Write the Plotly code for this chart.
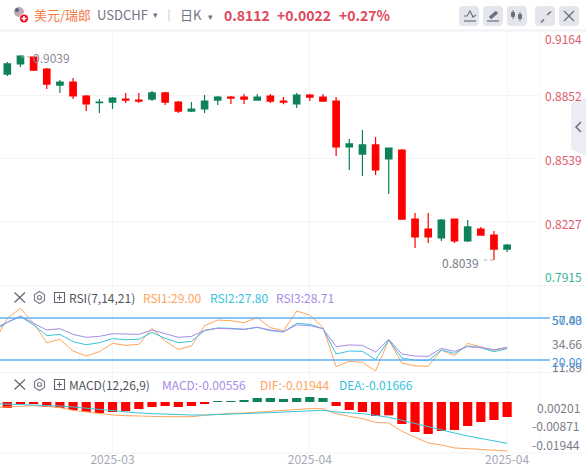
import plotly.graph_objects as go

idx = list(range(39))
line_idx = list(range(-1, 39))
opens  = [.8955,.9005,.9039,.8980,.8901,.8916,.8847,.8814,.8817,.8832,.8827,.8832,.8862,.8817,.8773,.8783,.8827,.8842,.8842,.8827,.8847,.8822,
          .8808,.8852,.8842,.8822,.8596,.8561,.8606,.8537,.8581,.8241,.8192,.8148,.8241,.8133,.8192,.8162,.8093]
highs  = [.9015,.9048,.9042,.8985,.8926,.8936,.8852,.8832,.8842,.8862,.8862,.8872,.8867,.8822,.8817,.8852,.8847,.8847,.8857,.8857,.8857,.8842,
          .8862,.8857,.8857,.8842,.8635,.8680,.8645,.8591,.8586,.8271,.8271,.8241,.8241,.8236,.8202,.8182,.8118]
lows   = [.8946,.8990,.8970,.8882,.8862,.8832,.8773,.8763,.8783,.8813,.8813,.8822,.8803,.8763,.8768,.8763,.8803,.8808,.8808,.8827,.8813,.8807,
          .8788,.8822,.8822,.8551,.8483,.8453,.8458,.8364,.8236,.8098,.8123,.8133,.8123,.8128,.8162,.8039,.8078]
closes = [.9005,.9044,.8975,.8906,.8916,.8847,.8808,.8817,.8837,.8827,.8822,.8862,.8817,.8773,.8783,.8822,.8842,.8837,.8832,.8842,.8822,.8817,
          .8852,.8842,.8822,.8596,.8611,.8606,.8483,.8591,.8241,.8153,.8153,.8236,.8133,.8202,.8162,.8093,.8113]

rsi1 = [36.0,57.1,66.0,52.6,35.4,38.4,28.0,23.5,27.4,34.8,33.0,33.9,48.2,36.9,29.5,32.5,50.5,55.6,55.0,53.2,57.7,48.8,46.1,
        63.6,60.0,49.1,14.1,18.8,17.9,10.2,37.8,17.3,14.7,14.4,28.9,23.8,34.8,31.9,28.6,31.0]
rsi2 = [46.0,53.5,58.6,51.2,41.7,42.8,36.3,33.6,35.4,39.0,38.1,38.4,44.6,39.3,35.4,36.6,46.1,48.5,48.2,47.3,49.1,46.1,44.9,
        52.6,51.7,47.9,25.3,28.0,27.7,20.3,37.8,21.8,19.7,19.4,28.9,25.9,32.5,31.0,27.4,30.1]
rsi3 = [48.0,53.5,59.2,52.6,46.7,47.9,42.8,40.2,41.0,43.4,42.8,42.8,46.7,43.1,40.2,41.0,46.4,48.2,47.9,47.3,49.1,46.7,45.2,
        51.2,50.6,47.9,31.9,33.4,33.0,27.1,38.4,25.3,23.5,23.2,30.4,27.7,31.9,31.0,29.2,31.3]
rsi_levels = [57.4, 20.0]

macd = [-.00222,-.00074,-.00074,-.00185,-.00222,-.00296,-.0037,-.00407,-.0037,-.00333,-.00259,-.00185,-.00148,-.00185,-.00148,-.00074,
        .00012,.00025,.00049,.00148,.00148,.00111,.00148,.00185,.00148,-.00148,-.00296,-.0037,-.00519,-.00494,-.00815,-.01111,-.01185,
        -.01074,-.01037,-.00889,-.00741,-.00667,-.00556]
dif = [-.00385,-.00361,-.00313,-.00313,-.00337,-.00385,-.00481,-.00542,-.0059,-.0065,-.00674,-.00698,-.00698,-.0071,-.0071,-.0071,-.00662,-.00614,
       -.0059,-.00578,-.00542,-.00517,-.00469,-.00457,-.00421,-.00421,-.00602,-.00698,-.00782,-.00915,-.00939,-.01239,-.01456,-.01661,
       -.01733,-.01841,-.01865,-.01889,-.01937,-.01949]
dea = [-.00241,-.00253,-.00265,-.00277,-.00301,-.00325,-.00361,-.00409,-.00445,-.00493,-.00542,-.00578,-.00602,-.00626,-.00638,-.0065,-.0065,
       -.00638,-.00626,-.00602,-.0059,-.00566,-.00542,-.00517,-.00517,-.00481,-.00542,-.00566,-.00602,-.00662,-.00734,-.00842,-.00963,
       -.01083,-.01203,-.013,-.01408,-.01504,-.016,-.01673]

month_ticks = [8, 23, 38]
month_labels = ["2025-03", "2025-04", "2025-04"]
price_ticks = [.8852, .8539, .8227]

W, H = 586, 474
RED, GREEN = "#ff0000", "#0f8158"
ORANGE, CYAN, PURPLE, BLUE = "#ffa45c", "#35c4dc", "#a88be8", "#5fb2f3"
FONT = "Noto Sans CJK SC"
PLOT_R = 540
GRID = "#f3f4f8"

def px(x): return x / W
def py(y): return 1 - y / H

fig = go.Figure()
fig.add_trace(go.Candlestick(
    x=idx, open=opens, high=highs, low=lows, close=closes,
    increasing=dict(line=dict(color=GREEN, width=1.2), fillcolor=GREEN),
    decreasing=dict(line=dict(color=RED, width=1.2), fillcolor=RED),
    whiskerwidth=0, xaxis="x", yaxis="y", hoverinfo="skip"))
for s, c in [(rsi1, ORANGE), (rsi2, CYAN), (rsi3, PURPLE)]:
    fig.add_trace(go.Scatter(x=line_idx, y=s, mode="lines", line=dict(color=c, width=1), xaxis="x", yaxis="y2", hoverinfo="skip"))
fig.add_trace(go.Bar(x=idx, y=macd, marker_color=[GREEN if v > 0 else RED for v in macd], marker_line_width=0,
                     xaxis="x", yaxis="y3", hoverinfo="skip"))
fig.add_trace(go.Scatter(x=line_idx, y=dif, mode="lines", line=dict(color=ORANGE, width=1), xaxis="x", yaxis="y4", hoverinfo="skip"))
fig.add_trace(go.Scatter(x=line_idx, y=dea, mode="lines", line=dict(color=CYAN, width=1), xaxis="x", yaxis="y4", hoverinfo="skip"))

dom = lambda top, bot: [py(bot), py(top)]
hidden = dict(showgrid=False, zeroline=False, showticklabels=False, ticks="")
fig.update_layout(
    width=W, height=H, margin=dict(l=0, r=0, t=0, b=0), autosize=False,
    paper_bgcolor="white", plot_bgcolor="white", showlegend=False, bargap=0.3, boxgap=0.3,
    font=dict(family=FONT, size=12, color="#6c7280"),
    xaxis=dict(domain=[0, px(PLOT_R)], range=[-0.555, 40.5], tickmode="array", tickvals=month_ticks, ticktext=month_labels,
               showgrid=True, gridcolor=GRID, gridwidth=1, zeroline=False, rangeslider=dict(visible=False),
               anchor="y3", side="bottom", tickfont=dict(size=12, color="#a6a9b6"), ticks="", ticklabelstandoff=-2),
    yaxis=dict(domain=dom(31, 285), range=[.79160, .91673], side="right", anchor="x", tickmode="array",
               tickvals=price_ticks, showgrid=True, gridcolor=GRID, zeroline=False, showticklabels=False, ticks=""),
    yaxis2=dict(domain=dom(286, 372), range=[9.32, 85.86], anchor="x", **hidden),
    yaxis3=dict(domain=dom(373, 453), range=[-.01889, .01074], anchor="x", **hidden),
    yaxis4=dict(domain=dom(373, 453), range=[-.02022, .00866], anchor="x", overlaying="y3", **hidden),
)

shapes = []
def line(x0, y0, x1, y1, color=GRID, width=1, **kw):
    shapes.append(dict(type="line", xref="paper", yref="paper", x0=px(x0), y0=py(y0), x1=px(x1), y1=py(y1),
                       line=dict(color=color, width=width), **kw))
line(0, 30.5, W, 30.5, "#f1f2f5", 2)
line(0, 285.5, W, 285.5)
line(0, 372.5, W, 372.5)
line(0, 453, W, 453)
line(PLOT_R, 31, PLOT_R, 453)
for v in rsi_levels:
    shapes.append(dict(type="line", xref="paper", yref="y2", x0=0, x1=px(550), y0=v, y1=v, line=dict(color=BLUE, width=1.6)))

def rbox(x0, y0, x1, y1, fill, r=4):
    a, b, c, d = px(x0), py(y0), px(x1), py(y1)
    rx, ry = r / W, r / H
    path = (f"M{a+rx},{b} L{c-rx},{b} Q{c},{b} {c},{b-ry} L{c},{d+ry} Q{c},{d} {c-rx},{d} "
            f"L{a+rx},{d} Q{a},{d} {a},{d+ry} L{a},{b-ry} Q{a},{b} {a+rx},{b} Z")
    shapes.append(dict(type="path", xref="paper", yref="paper", path=path, fillcolor=fill, line=dict(width=0)))

for x0 in (459, 483, 507, 535, 559):
    rbox(x0, 6, x0 + 20, 26, "#e4e6ec")
ICON = "#6b7080"
line(464, 21, 476, 21, ICON, 1.2)
shapes.append(dict(type="path", xref="paper", yref="paper", line=dict(color=ICON, width=1.2),
                   path=f"M{px(464)},{py(16)} L{px(467)},{py(16)} L{px(470)},{py(11)} L{px(473)},{py(17)} L{px(476)},{py(15)}"))
line(487, 21, 499, 21, ICON, 1.2)
line(490, 18, 497, 12, ICON, 3.5)
line(513, 10, 513, 19, ICON, 1); line(520, 12, 520, 21, ICON, 1)
rbox(511, 12, 515, 17, ICON, 1); rbox(518, 14, 522, 19, ICON, 1)
line(541, 22.5, 544, 19.5, ICON, 1.6); line(547, 15, 551, 11.5, ICON, 1.6)
line(564, 11, 574, 21, ICON, 1.2); line(574, 11, 564, 21, ICON, 1.2)
line(169, 9, 169, 21, "#c8cbd3", 1)
for y in (297.5, 384.5):
    line(14.5, y - 5, 25, y + 5, "#5f6470", 1.2); line(25, y - 5, 14.5, y + 5, "#5f6470", 1.2)
    hexpts = [(39.5, y - 6), (44.5, y - 3), (44.5, y + 3), (39.5, y + 6), (34.5, y + 3), (34.5, y - 3)]
    shapes.append(dict(type="path", xref="paper", yref="paper", line=dict(color="#7a7f8c", width=1.2),
                       path="M" + " L".join(f"{px(a)},{py(b)}" for a, b in hexpts) + " Z"))
    shapes.append(dict(type="circle", xref="paper", yref="paper", x0=px(37.5), x1=px(41.5), y0=py(y - 2), y1=py(y + 2),
                       line=dict(color="#7a7f8c", width=1.2)))
    shapes.append(dict(type="rect", xref="paper", yref="paper", x0=px(54.5), x1=px(64.5), y0=py(y - 5), y1=py(y + 5),
                       line=dict(color="#5f6470", width=1.1)))
    line(59.5, y - 3, 59.5, y + 3, "#5f6470", 1); line(57, y, 62, y, "#5f6470", 1)
shapes.append(dict(type="circle", xref="paper", yref="paper", x0=px(14), x1=px(24), y0=py(7), y1=py(17), fillcolor="#c4a9ae", line=dict(width=0)))
shapes.append(dict(type="circle", xref="paper", yref="paper", x0=px(15), x1=px(19), y0=py(8), y1=py(12), fillcolor="#5a6490", line=dict(width=0)))
shapes.append(dict(type="circle", xref="paper", yref="paper", x0=px(19.5), x1=px(28.5), y0=py(14), y1=py(23), fillcolor="#e8061c", line=dict(color="white", width=1)))
line(21.5, 18.5, 26.5, 18.5, "white", 1.6); line(24, 16, 24, 21, "white", 1.6)
shapes.append(dict(type="path", xref="paper", yref="paper", fillcolor="#ecedf2", line=dict(width=0),
                   path=f"M{px(586)},{py(98)} L{px(575)},{py(101)} L{px(571)},{py(104)} L{px(571)},{py(149)} L{px(586)},{py(156)} Z"))
shapes.append(dict(type="path", xref="paper", yref="paper", line=dict(color="#6b7080", width=1.5),
                   path=f"M{px(581)},{py(122)} L{px(576)},{py(127)} L{px(581)},{py(132)}"))
line(21, 57, 31, 57, "#a6a9b6", 1)
shapes[-1]["line"]["dash"] = "dot"
line(484, 260, 493, 260, "#a6a9b6", 1)
shapes[-1]["line"]["dash"] = "dot"

fig.update_layout(shapes=shapes)

def text(x, y, s, color="#6c7280", size=12, anchor="left", bold=False):
    fig.add_annotation(xref="paper", yref="paper", x=px(x), y=py(y), text=f"<b>{s}</b>" if bold else s, showarrow=False,
                       xanchor=anchor, yanchor="middle", borderpad=0, font=dict(color=color, size=size, family=FONT))

text(33, 14.5, "美元/瑞郎", "#f47a45", 13)
text(95.5, 15, "USDCHF", "#70747f", 13)
text(152, 15, "▾", "#70747f", 9)
text(178.5, 14.5, "日K", "#70747f", 13)
text(207, 16, "▾", "#70747f", 9)
text(223, 14.5, "0.8112", "#e0485c", 14, bold=True)
text(275.5, 14.5, "+0.0022", "#e0485c", 14, bold=True)
text(337.5, 14.5, "+0.27%", "#e0485c", 14, bold=True)

text(32, 57.5, "0.9039", "#878b97", 12)
text(441, 262, "0.8039", "#787c88", 12)

text(544, 38.5, "0.9164", "#e0596b", 12)
text(544, 95.5, "0.8852", "#e0596b", 12)
text(544, 159.5, "0.8539", "#e0596b", 12)
text(544, 223.5, "0.8227", "#e0596b", 12)
text(544, 276.5, "0.7915", "#35b49a", 12)

text(68, 297.5, "RSI(7,14,21)", "#50545e", 12)
text(142, 297.5, "RSI1:29.00", ORANGE, 12)
text(209, 297.5, "RSI2:27.80", CYAN, 12)
text(275, 297.5, "RSI3:28.71", PURPLE, 12)
text(551, 319, "57.43", "#787c88", 12)
text(551, 319, "50.00", "#3f97e6", 12)
text(551, 343, "34.66", "#787c88", 12)
text(551, 366, "11.89", "#787c88", 12)
text(551, 361, "20.00", "#3f97e6", 12)

text(68, 384.5, "MACD(12,26,9)", "#50545e", 12)
text(161, 384.5, "MACD:-0.00556", PURPLE, 12)
text(259, 384.5, "DIF:-0.01944", ORANGE, 12)
text(338, 384.5, "DEA:-0.01666", CYAN, 12)
text(536, 407, "0.00201", "#787c88", 12)
text(531, 425.5, "-0.00871", "#787c88", 12)
text(531, 444.5, "-0.01944", "#787c88", 12)

fig.write_html("out.html", config=dict(displayModeBar=False),
               post_script="document.body.style.margin='0';document.documentElement.style.overflow='hidden';")
